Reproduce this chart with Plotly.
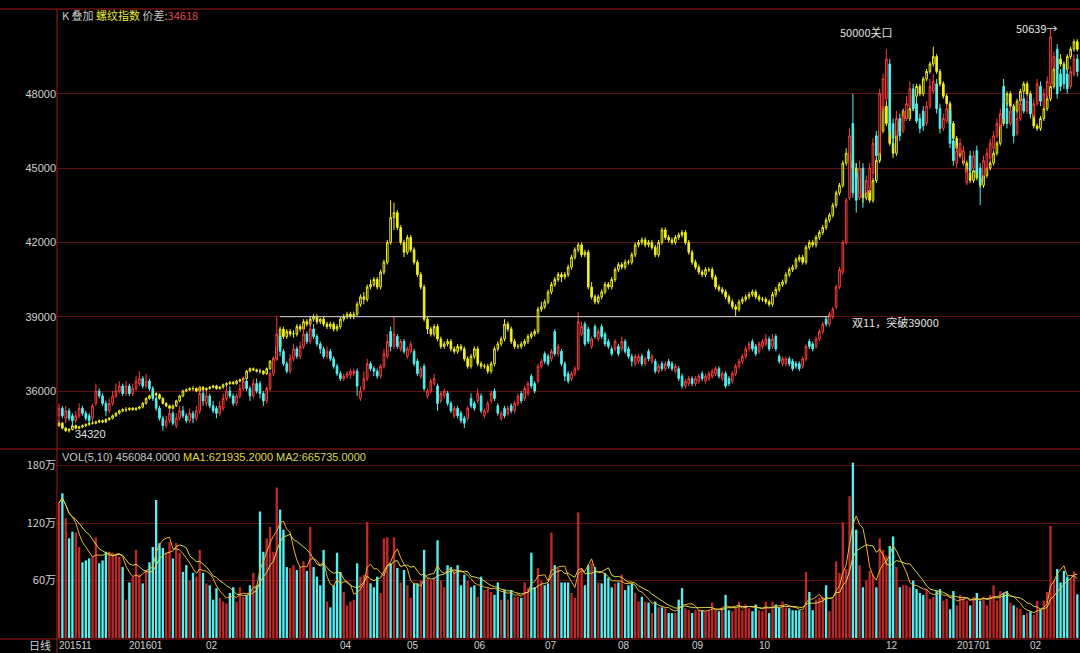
import plotly.graph_objects as go
import pandas as pd

W, H = 1080, 653

# ---------------- data ----------------
main_open = [
    35000, 35300, 34900, 35200, 35000, 34800, 35000, 35300, 35100, 35000,
    34900, 35500, 36000, 35800, 35500, 35200, 35500, 35800, 36000, 36200,
    35900, 36200, 35900, 36100, 36300, 36500, 36200, 36400, 36100, 35700,
    35300, 34900, 34600, 34800, 35100, 34600, 34900, 35200, 35000, 34800,
    35100, 34900, 35200, 35900, 35500, 35800, 35400, 35300, 35100, 35300,
    35700, 36000, 35800, 35500, 35800, 36100, 36400, 36100, 35800, 36300,
    36300, 35900, 35600, 36100, 36700, 37300, 38200, 37600, 37100, 36800,
    37300, 37700, 37400, 37800, 38300, 38000, 38500, 38200, 37900, 37700,
    37400, 37600, 37300, 37000, 36700, 36500, 36600, 36650, 36700, 36800,
    35700, 36100, 36500, 37100, 36900, 36800, 36600, 37000, 37400, 38400,
    37800, 38200, 37700, 38000, 37400, 37600, 37600, 37200, 36600, 37000,
    35800, 36000, 36300, 36200, 35600, 35800, 35900, 35500, 35000, 35300,
    35100, 34900, 34900, 35700, 35500, 35600, 35800, 35000, 35200, 35600,
    36000, 35400, 34900, 35300, 35100, 35400, 35200, 35500, 35900, 35700,
    35900, 36600, 36300, 36400, 37000, 37500, 37400, 37300, 38400, 37500,
    37600, 37100, 36700, 36500, 36700, 36900, 38300, 38700, 38500, 37800,
    38600, 38100, 38600, 38300, 38000, 37700, 37700, 37800, 37700, 38000,
    37700, 37400, 37100, 37200, 37400, 37100, 37600, 37200, 37200, 36800,
    37100, 36900, 37200, 37100, 36800, 36900, 36600, 36200, 36300, 36500,
    36300, 36400, 36700, 36400, 36500, 36600, 36700, 36900, 36500, 36700,
    36500, 36400, 36700, 37000, 37200, 37400, 37700, 38000, 37800, 37600,
    37800, 37900, 38100, 37800, 38200, 37400, 37100, 37100, 37300, 37200,
    37100, 37100, 37000, 37300, 38000, 37900, 37800, 38100, 38400, 38900,
    38700, 39000, 39400, 40200, 40800, 42000, 43800, 46800, 44800, 43800,
    45000, 44000, 44200, 44800, 46300, 45600, 47400, 47800, 49200, 46800,
    46300, 47000, 46500, 47000, 47500, 48200, 47600, 47000, 47300, 46800,
    47500, 48100, 48400, 47400, 46600, 46900, 47300, 46100, 45200, 45600,
    45300, 44400, 45500, 45000, 45700, 45000, 44700, 45000, 45400, 45800,
    46300, 46700, 48300, 47400, 46800, 47300, 46400, 47000, 47800, 47300,
    47800, 47100, 47600, 48300, 47500, 47900, 48400, 49100, 49800, 48800,
    49000, 48800, 48300, 48800, 49400,
]
main_high = [
    35500, 35400, 35400, 35300, 35100, 35200, 35500, 35400, 35200, 35100,
    35500, 36300, 36100, 35900, 35600, 35700, 36000, 36300, 36400, 36300,
    36400, 36300, 36300, 36600, 36800, 36600, 36700, 36500, 36200, 35800,
    35400, 35000, 35000, 35300, 35200, 35100, 35400, 35400, 35100, 35300,
    35200, 35400, 36200, 36000, 36000, 35900, 35600, 35400, 35600, 35900,
    36200, 36200, 35900, 35900, 36300, 36600, 36500, 36200, 36500, 36500,
    36400, 36000, 36200, 36800, 37400, 39000, 38400, 37700, 37200, 37500,
    37900, 37800, 38000, 38600, 38400, 38800, 38700, 38300, 38000, 37800,
    37800, 37700, 37400, 37100, 36800, 36700, 36800, 36900, 36900, 36900,
    36200, 36800, 37300, 37200, 37000, 36900, 37100, 37700, 38300, 38600,
    39000, 38300, 38100, 38100, 37800, 38000, 37700, 37300, 37000, 37100,
    36100, 36500, 36700, 36300, 36000, 36100, 36000, 35600, 35400, 35400,
    35200, 35000, 35400, 35900, 35600, 36100, 35900, 35300, 35600, 36000,
    36100, 35500, 35200, 35400, 35400, 35500, 35600, 35900, 36000, 36200,
    36400, 36700, 36400, 37100, 37300, 37600, 37500, 37700, 38500, 37900,
    37700, 37200, 36800, 36800, 37000, 39200, 38800, 38800, 38600, 38200,
    38700, 38500, 38700, 38400, 38100, 37800, 38100, 37900, 38200, 38100,
    37800, 37500, 37500, 37500, 37500, 37400, 37700, 37500, 37300, 37100,
    37200, 37200, 37300, 37200, 37100, 37000, 36700, 36500, 36600, 36600,
    36600, 36700, 36800, 36700, 36800, 36900, 37000, 37000, 36800, 36800,
    36600, 36800, 37100, 37300, 37500, 37800, 38000, 38100, 37900, 38000,
    38100, 38300, 38200, 38300, 38300, 37500, 37400, 37400, 37400, 37300,
    37200, 37200, 37400, 37900, 38100, 38000, 38200, 38500, 38800, 39000,
    39200, 39400, 40300, 41000, 42100, 43800, 46600, 48000, 45200, 45300,
    45200, 44700, 45200, 46200, 46500, 48200, 48800, 49800, 49400, 47000,
    47300, 47200, 47300, 47900, 48500, 48400, 47800, 47200, 47500, 47700,
    48600, 48800, 48600, 47600, 47200, 47600, 47400, 46300, 45900, 46200,
    45900, 45100, 45700, 45700, 45900, 45200, 45500, 45800, 46200, 46500,
    47000, 47400, 48600, 47600, 47500, 47500, 47200, 47800, 48000, 47900,
    48000, 47800, 48600, 48500, 48200, 48700, 50639, 49700, 50000, 49000,
    49200, 49000, 49100, 49600, 49600,
]
main_low = [
    34800, 34900, 34700, 34800, 34600, 34700, 34900, 35000, 34800, 34700,
    34800, 35400, 35700, 35400, 35000, 35100, 35400, 35700, 35900, 35800,
    35800, 35800, 35800, 36000, 36200, 36100, 36100, 36000, 35600, 35200,
    34800, 34400, 34500, 34700, 34600, 34500, 34800, 34900, 34700, 34700,
    34700, 34800, 35100, 35400, 35400, 35300, 35100, 34900, 35000, 35200,
    35600, 35700, 35400, 35400, 35700, 36000, 36000, 35600, 35700, 35900,
    35700, 35400, 35500, 36000, 36600, 37200, 37400, 37000, 36700, 36700,
    37200, 37300, 37300, 37700, 37900, 37900, 38100, 37800, 37500, 37300,
    37300, 37200, 36900, 36600, 36400, 36400, 36500, 36500, 36600, 35800,
    35600, 36000, 36400, 36800, 36600, 36500, 36500, 36900, 37300, 37600,
    37700, 37700, 37600, 37500, 37300, 37500, 37000, 36600, 36500, 36000,
    35700, 35900, 36200, 35200, 35500, 35700, 35400, 35100, 34900, 34900,
    34700, 34500, 34800, 35300, 35200, 35500, 35100, 34900, 35100, 35500,
    35600, 35000, 34800, 34900, 35000, 35100, 35100, 35400, 35500, 35600,
    35800, 36100, 35900, 36300, 36900, 37100, 37000, 37200, 37400, 37400,
    37000, 36400, 36300, 36400, 36600, 36800, 38200, 37800, 37900, 37700,
    38100, 38000, 38100, 37800, 37700, 37400, 37600, 37400, 37600, 37500,
    37300, 37000, 37000, 37100, 37000, 37000, 37200, 37100, 36700, 36700,
    36800, 36800, 36900, 36800, 36700, 36400, 36100, 36100, 36200, 36200,
    36200, 36300, 36400, 36300, 36400, 36500, 36600, 36500, 36400, 36100,
    36200, 36300, 36600, 36900, 37100, 37300, 37600, 37600, 37400, 37500,
    37700, 37800, 37600, 37700, 37600, 37100, 37000, 37000, 37000, 36800,
    36900, 36800, 36900, 37200, 37700, 37600, 37700, 38000, 38300, 38600,
    38600, 38900, 39300, 40100, 40700, 41900, 43700, 43800, 43200, 43700,
    43400, 43900, 44000, 44600, 45300, 45500, 47300, 47700, 46300, 45800,
    46100, 46100, 46400, 46900, 47400, 47300, 46800, 46400, 46500, 46700,
    47400, 48000, 47200, 46400, 46500, 46800, 45800, 45100, 45000, 45400,
    45100, 44300, 44700, 44900, 44600, 43500, 44500, 44900, 45300, 45700,
    46200, 46600, 46800, 46600, 46700, 46000, 46300, 46900, 47200, 47200,
    47000, 47000, 47500, 47500, 47400, 47800, 48300, 49000, 47800, 48100,
    48200, 48000, 48200, 48700, 48700,
]
main_close = [
    35300, 35000, 35200, 34900, 34800, 35000, 35300, 35100, 34900, 34800,
    35400, 36000, 35800, 35500, 35200, 35500, 35800, 36000, 36200, 35900,
    36200, 35900, 36100, 36400, 36500, 36200, 36400, 36100, 35700, 35300,
    34900, 34600, 34800, 35100, 34700, 34900, 35200, 35000, 34800, 35100,
    34900, 35200, 35900, 35600, 35800, 35400, 35200, 35100, 35400, 35700,
    36000, 35800, 35500, 35800, 36100, 36400, 36100, 35800, 36300, 36000,
    35900, 35600, 36100, 36700, 37300, 38300, 37600, 37100, 36800, 37300,
    37700, 37400, 37800, 38300, 38000, 38500, 38200, 37900, 37700, 37400,
    37600, 37300, 37000, 36700, 36500, 36600, 36700, 36800, 36800, 36200,
    36000, 36500, 37100, 36900, 36800, 36600, 37000, 37500, 38000, 37800,
    38300, 37800, 38000, 37600, 37700, 37900, 37100, 36700, 36900, 36100,
    36000, 36400, 36500, 35500, 35900, 36000, 35500, 35200, 35300, 35000,
    34800, 34700, 35300, 35400, 35300, 35900, 35200, 35200, 35500, 35900,
    35700, 35100, 35100, 35000, 35300, 35200, 35500, 35800, 35600, 36100,
    36300, 36200, 36000, 37000, 37200, 37200, 37100, 37600, 37500, 37800,
    37100, 36600, 36400, 36700, 36900, 38800, 38600, 37900, 38000, 38100,
    38200, 38400, 38200, 37900, 37800, 37500, 38000, 37500, 38000, 37600,
    37400, 37200, 37400, 37400, 37100, 37300, 37300, 37400, 36800, 37000,
    36900, 37100, 37000, 36900, 37000, 36500, 36200, 36400, 36500, 36300,
    36500, 36600, 36500, 36600, 36700, 36800, 36900, 36600, 36700, 36200,
    36300, 36700, 37000, 37200, 37400, 37700, 37900, 37700, 37500, 37900,
    38000, 38100, 37700, 38100, 37700, 37200, 37300, 37300, 37100, 36900,
    37000, 36900, 37300, 37800, 37800, 37700, 38100, 38400, 38700, 38700,
    39100, 39300, 40200, 40900, 42000, 43700, 46300, 44000, 43700, 45000,
    44000, 44500, 45000, 46000, 45500, 48000, 48600, 49400, 46500, 46200,
    47000, 46300, 47100, 47600, 48200, 47400, 46900, 46600, 46700, 47500,
    48300, 48500, 47400, 46600, 47000, 47400, 46000, 45300, 45700, 46000,
    45700, 44900, 44900, 45500, 44800, 44400, 45300, 45600, 46000, 46300,
    46800, 47200, 47000, 46800, 47300, 46300, 47000, 47600, 47300, 47700,
    47200, 47600, 48400, 47700, 48000, 48500, 50300, 49500, 48000, 48300,
    48400, 48200, 48900, 49400, 48900,
]

rebar_open = [
    34600, 34700, 34500, 34400, 34450, 34600, 34500, 34550, 34600, 34650,
    34700, 34700, 34750, 34800, 34750, 34850, 34900, 35000, 35100, 35200,
    35250, 35250, 35300, 35250, 35300, 35350, 35500, 35700, 35800, 35900,
    35850, 35700, 35500, 35400, 35300, 35400, 35600, 35800, 36000, 36050,
    36100, 36100, 36000, 36150, 36050, 36100, 36150, 36200, 36100, 36150,
    36250, 36300, 36350, 36300, 36400, 36450, 36500, 36800, 36900, 36850,
    36800, 36800, 36700, 36900, 37200, 37300, 37800, 38500, 38200, 38400,
    38300, 38300, 38600, 38500, 38800, 38700, 38900, 39000, 38800, 38900,
    38700, 38600, 38700, 38500, 38600, 38900, 39000, 39100, 39000, 39100,
    39500, 39800, 39700, 40200, 40300, 40500, 40200, 40800, 41200, 42000,
    43000, 43200, 42600, 42000, 41600, 42200, 41700, 41200, 40700, 40200,
    38900, 38500, 38300, 38600, 38100, 37800, 37900, 38000, 37700, 37600,
    37800, 37700, 37300, 37000, 37400, 37700, 37100, 37000, 37000, 36800,
    37100, 37700, 37900, 38100, 38700, 38500, 38000, 37800, 37800, 37900,
    38000, 38200, 38300, 38400, 39300, 39400, 39600, 40000, 40300, 40500,
    40700, 40600, 40700, 41000, 41400, 41700, 41900, 41500, 41600, 40200,
    39800, 39600, 39800, 40000, 40300, 40200, 40500, 40900, 41100, 41000,
    41200, 41200, 41500, 41900, 42000, 42100, 41900, 42000, 41800, 41500,
    42000, 42500, 42200, 42100, 42000, 42200, 42300, 42400, 42000, 41600,
    41200, 41000, 40800, 40700, 40900, 40900, 40600, 40200, 40100, 40000,
    39800, 39600, 39400, 39300, 39600, 39700, 39800, 39900, 40000, 39800,
    39700, 39700, 39600, 39500, 39900, 40100, 40300, 40400, 40700, 40900,
    41000, 41300, 41400, 41200, 41800, 42000, 41900, 42200, 42400, 42600,
    42900, 43100, 43500, 44000, 44300, 45200, 45600, 45300, 45000, 44600,
    44000, 43800, 44100, 43700, 44500, 45300, 46500, 47500, 46800, 46000,
    45600, 46500, 46900, 47300, 47000, 47400, 47900, 48300, 48000, 48600,
    48900, 49200, 49500, 48900, 48400, 47900, 47600, 46800, 46200, 45800,
    45500, 45200, 44800, 44500, 44900, 44600, 44300, 44700, 45000, 45200,
    45600, 46000, 46800, 47600, 48000, 47500, 47300, 47700, 48100, 48400,
    48000, 47200, 46700, 46600, 47000, 47400, 47800, 48300, 49000, 49400,
    49200, 49000, 49500, 49800, 50100,
]
rebar_high = [
    34800, 34750, 34550, 34500, 34650, 34650, 34600, 34650, 34700, 34750,
    34800, 34800, 34850, 34850, 34900, 34950, 35050, 35150, 35250, 35300,
    35350, 35350, 35350, 35350, 35400, 35550, 35750, 35850, 35950, 35950,
    35900, 35750, 35550, 35450, 35450, 35650, 35850, 36050, 36100, 36150,
    36200, 36150, 36200, 36200, 36150, 36200, 36250, 36250, 36200, 36300,
    36350, 36400, 36400, 36450, 36500, 36550, 36850, 36950, 36950, 36900,
    36900, 36850, 36950, 37250, 37350, 37850, 38600, 38600, 38500, 38500,
    38450, 38700, 38700, 38900, 38900, 39000, 39100, 39100, 38950, 39000,
    38800, 38800, 38800, 38700, 39000, 39100, 39200, 39200, 39200, 39600,
    39900, 40000, 40300, 40500, 40600, 40600, 40900, 41300, 42100, 43700,
    43600, 43300, 42700, 42100, 42300, 42300, 41800, 41300, 40800, 40300,
    39000, 38600, 38700, 38700, 38200, 38000, 38100, 38100, 37800, 37900,
    37900, 37800, 37400, 37500, 37800, 37800, 37200, 37100, 37100, 37200,
    37800, 38000, 38200, 38900, 38800, 38600, 38100, 37900, 38000, 38100,
    38300, 38400, 38500, 39400, 39600, 39700, 40100, 40400, 40600, 40800,
    40800, 40800, 41100, 41500, 41800, 42000, 42000, 41700, 41700, 40400,
    39900, 39900, 40100, 40400, 40400, 40600, 41000, 41200, 41200, 41300,
    41300, 41600, 42000, 42100, 42200, 42200, 42100, 42100, 41900, 42100,
    42600, 42600, 42300, 42200, 42300, 42400, 42500, 42500, 42100, 41700,
    41300, 41100, 40900, 41000, 41000, 41000, 40700, 40300, 40200, 40100,
    39900, 39700, 39500, 39700, 39800, 39900, 40000, 40100, 40100, 39900,
    39800, 39800, 39700, 40000, 40200, 40400, 40500, 40800, 41000, 41100,
    41400, 41500, 41500, 41900, 42100, 42100, 42300, 42500, 42700, 43000,
    43200, 43600, 44100, 44400, 45300, 45800, 45800, 45500, 45200, 44700,
    44200, 44200, 44200, 44600, 45400, 46600, 47600, 47700, 46900, 46200,
    46600, 47000, 47400, 47400, 47500, 48000, 48400, 48400, 48700, 49000,
    49300, 49900, 49600, 49000, 48500, 48000, 47700, 46900, 46300, 45900,
    45600, 45300, 44900, 45000, 45000, 44700, 44800, 45100, 45300, 45700,
    46100, 46900, 47700, 48100, 48100, 47600, 47800, 48200, 48500, 48500,
    48100, 47300, 46800, 47100, 47500, 47900, 48400, 49100, 49500, 49600,
    49300, 49600, 49900, 50200, 50200,
]
rebar_low = [
    34550, 34450, 34350, 34320, 34400, 34450, 34450, 34500, 34550, 34600,
    34650, 34650, 34700, 34700, 34700, 34800, 34850, 34950, 35050, 35150,
    35150, 35200, 35200, 35200, 35250, 35300, 35450, 35650, 35750, 35800,
    35650, 35450, 35350, 35250, 35250, 35350, 35550, 35750, 35950, 36000,
    36000, 35950, 35950, 36000, 36000, 36050, 36100, 36050, 36050, 36100,
    36200, 36250, 36250, 36250, 36350, 36400, 36450, 36750, 36800, 36750,
    36700, 36650, 36650, 36850, 37150, 37250, 37750, 38100, 38100, 38200,
    38150, 38200, 38400, 38400, 38600, 38600, 38800, 38700, 38700, 38600,
    38500, 38500, 38400, 38400, 38500, 38800, 38900, 38900, 38900, 39000,
    39400, 39500, 39600, 40100, 40200, 40100, 40100, 40700, 41100, 41900,
    42500, 42500, 41900, 41400, 41500, 41600, 41100, 40600, 40100, 38800,
    38300, 38200, 38200, 38000, 37700, 37700, 37800, 37600, 37500, 37500,
    37600, 37200, 36900, 36900, 37300, 37000, 36900, 36900, 36700, 36700,
    37000, 37600, 37800, 38000, 38400, 37900, 37700, 37700, 37700, 37800,
    37900, 38100, 38200, 38300, 39200, 39300, 39500, 39900, 40200, 40400,
    40400, 40500, 40600, 40900, 41300, 41600, 41400, 41400, 40100, 39700,
    39500, 39500, 39700, 39900, 40100, 40100, 40400, 40800, 40900, 40900,
    41100, 41100, 41400, 41800, 41900, 41800, 41800, 41700, 41400, 41400,
    41900, 42100, 42000, 41900, 41900, 42100, 42200, 41900, 41500, 41100,
    40900, 40700, 40600, 40600, 40800, 40500, 40100, 40000, 39900, 39700,
    39500, 39300, 39000, 39200, 39500, 39600, 39700, 39800, 39700, 39600,
    39600, 39500, 39400, 39400, 39800, 40000, 40200, 40300, 40600, 40800,
    40900, 41200, 41100, 41100, 41700, 41800, 41800, 42100, 42300, 42500,
    42800, 43000, 43400, 43900, 44200, 45100, 45100, 44800, 44500, 43900,
    43600, 43700, 43600, 43600, 44400, 45200, 46400, 46700, 45900, 45400,
    45500, 46400, 46800, 46900, 46900, 47300, 47800, 47900, 47900, 48500,
    48800, 49100, 48800, 48300, 47800, 47500, 46700, 46100, 45700, 45400,
    45100, 44700, 44400, 44400, 44500, 44200, 44200, 44600, 44900, 45100,
    45500, 45900, 46700, 47500, 47400, 47200, 47200, 47600, 48000, 47900,
    47100, 46600, 46500, 46500, 46900, 47300, 47700, 48200, 48900, 49100,
    48900, 48900, 49400, 49700, 49700,
]
rebar_close = [
    34700, 34500, 34400, 34450, 34600, 34500, 34550, 34600, 34650, 34700,
    34700, 34750, 34800, 34750, 34850, 34900, 35000, 35100, 35200, 35250,
    35250, 35300, 35250, 35300, 35350, 35500, 35700, 35800, 35900, 35850,
    35700, 35500, 35400, 35300, 35400, 35600, 35800, 36000, 36050, 36100,
    36100, 36000, 36150, 36050, 36100, 36150, 36200, 36100, 36150, 36250,
    36300, 36350, 36300, 36400, 36450, 36500, 36800, 36900, 36850, 36800,
    36800, 36700, 36900, 37200, 37300, 37800, 38500, 38200, 38400, 38300,
    38300, 38600, 38500, 38800, 38700, 38900, 39000, 38800, 38900, 38700,
    38600, 38700, 38500, 38600, 38900, 39000, 39100, 39000, 39100, 39500,
    39800, 39700, 40200, 40300, 40500, 40200, 40800, 41200, 42000, 43000,
    43200, 42600, 42000, 41600, 42200, 41700, 41200, 40700, 40200, 38900,
    38500, 38300, 38600, 38100, 37800, 37900, 38000, 37700, 37600, 37800,
    37700, 37300, 37000, 37400, 37700, 37100, 37000, 37000, 36800, 37100,
    37700, 37900, 38100, 38700, 38500, 38000, 37800, 37800, 37900, 38000,
    38200, 38300, 38400, 39300, 39400, 39600, 40000, 40300, 40500, 40700,
    40600, 40700, 41000, 41400, 41700, 41900, 41500, 41600, 40200, 39800,
    39600, 39800, 40000, 40300, 40200, 40500, 40900, 41100, 41000, 41200,
    41200, 41500, 41900, 42000, 42100, 41900, 42000, 41800, 41500, 42000,
    42500, 42200, 42100, 42000, 42200, 42300, 42400, 42000, 41600, 41200,
    41000, 40800, 40700, 40900, 40900, 40600, 40200, 40100, 40000, 39800,
    39600, 39400, 39300, 39600, 39700, 39800, 39900, 40000, 39800, 39700,
    39700, 39600, 39500, 39900, 40100, 40300, 40400, 40700, 40900, 41000,
    41300, 41400, 41200, 41800, 42000, 41900, 42200, 42400, 42600, 42900,
    43100, 43500, 44000, 44300, 45200, 45600, 45300, 45000, 44600, 44000,
    43800, 44100, 43700, 44500, 45300, 46500, 47500, 46800, 46000, 45600,
    46500, 46900, 47300, 47000, 47400, 47900, 48300, 48000, 48600, 48900,
    49200, 49500, 48900, 48400, 47900, 47600, 46800, 46200, 45800, 45500,
    45200, 44800, 44500, 44900, 44600, 44300, 44700, 45000, 45200, 45600,
    46000, 46800, 47600, 48000, 47500, 47300, 47700, 48100, 48400, 48000,
    47200, 46700, 46600, 47000, 47400, 47800, 48300, 49000, 49400, 49200,
    49000, 49500, 49800, 50100, 49800,
]

# volume in 万 (10k)
volume = [
    141, 151, 125, 104, 111, 110, 95, 79, 81, 83,
    85, 105, 78, 81, 90, 90, 89, 87, 85, 74,
    40, 58, 64, 92, 66, 57, 71, 79, 95, 144,
    99, 94, 89, 100, 83, 99, 89, 69, 76, 60,
    68, 64, 92, 68, 57, 55, 40, 52, 42, 38,
    36, 47, 53, 38, 53, 43, 45, 55, 68, 55,
    132, 90, 104, 116, 90, 157, 134, 113, 74, 73,
    76, 71, 74, 80, 70, 116, 74, 64, 55, 92,
    38, 32, 55, 89, 69, 48, 34, 38, 40, 78,
    64, 66, 121, 57, 53, 64, 47, 104, 105, 78,
    105, 73, 58, 71, 55, 42, 57, 57, 60, 92,
    63, 60, 63, 102, 60, 53, 76, 74, 71, 76,
    55, 66, 60, 53, 55, 43, 64, 50, 52, 48,
    45, 58, 40, 50, 40, 50, 43, 43, 42, 58,
    52, 89, 53, 73, 60, 55, 57, 110, 76, 73,
    58, 58, 58, 47, 42, 131, 73, 55, 76, 78,
    74, 58, 57, 68, 63, 53, 57, 58, 66, 50,
    55, 57, 47, 38, 43, 38, 37, 26, 38, 32,
    32, 31, 26, 26, 26, 40, 52, 31, 29, 26,
    29, 29, 29, 28, 29, 37, 29, 28, 32, 45,
    29, 28, 32, 38, 29, 35, 31, 28, 35, 29,
    28, 38, 26, 38, 35, 32, 38, 32, 31, 29,
    29, 29, 28, 69, 48, 29, 40, 42, 43, 55,
    28, 41, 80, 68, 121, 72, 148, 183, 113, 76,
    53, 60, 70, 66, 53, 104, 92, 86, 96, 106,
    74, 53, 55, 55, 53, 60, 51, 47, 45, 51,
    41, 43, 49, 51, 39, 41, 30, 49, 34, 45,
    43, 39, 34, 43, 47, 39, 43, 34, 45, 55,
    39, 49, 47, 49, 37, 34, 32, 30, 24, 26,
    28, 24, 39, 30, 39, 48, 117, 60, 72, 58,
    70, 64, 62, 69.4, 45.6,
]

# month labels: first bar of each labelled month
month_bar = [0, 21, 44, 84, 104, 124, 145, 167, 189, 209, 247, 268, 290]
month_text = ["201511", "201601", "02", "04", "05", "06", "07", "08", "09", "10",
              "12", "201701", "02"]

price_ticks = [36000, 39000, 42000, 45000, 48000]
vol_ticks = [60, 120, 180]
vol_tick_text = ["60万", "120万", "180万"]

break_level = 39000
break_from_bar, break_to_bar = 66, 230

# ---------------- styling ----------------
BG = "#000000"
RED = "#ff3c3c"
VOL_RED = "#c02828"
CYAN = "#54f0f0"
YELLOW = "#f0f020"
GRID = "#5e1212"
BORDER = "#a01c1c"
TXT = "#d0d0d0"
MA1_C = "#f0b030"
MA2_C = "#d8d850"
FONT = "Liberation Sans, Arial, Noto Sans CJK SC"
CJK = "Noto Sans CJK SC, Liberation Sans"


def px_x(x):
    return x / W


def px_y(y):
    return 1 - y / H


n = len(main_close)
idx = list(range(n))

vs = pd.Series(volume, dtype=float)
ma5 = vs.rolling(5, min_periods=1).mean()
ma10 = vs.rolling(10, min_periods=1).mean()
vol_colors = [VOL_RED if c >= o else CYAN for o, c in zip(main_open, main_close)]

fig = go.Figure()

fig.add_trace(go.Candlestick(
    x=idx, open=rebar_open, high=rebar_high, low=rebar_low, close=rebar_close,
    increasing=dict(line=dict(color=YELLOW, width=1), fillcolor=BG),
    decreasing=dict(line=dict(color=YELLOW, width=1), fillcolor=YELLOW),
    whiskerwidth=0, showlegend=False, hoverinfo="skip", xaxis="x", yaxis="y",
))
fig.add_trace(go.Candlestick(
    x=idx, open=main_open, high=main_high, low=main_low, close=main_close,
    increasing=dict(line=dict(color=RED, width=1), fillcolor=BG),
    decreasing=dict(line=dict(color=CYAN, width=1), fillcolor=CYAN),
    whiskerwidth=0, showlegend=False, hoverinfo="skip", xaxis="x", yaxis="y",
))
fig.add_trace(go.Bar(
    x=idx, y=volume, marker=dict(color=vol_colors, line=dict(width=0)),
    showlegend=False, hoverinfo="skip", xaxis="x2", yaxis="y2",
))
fig.add_trace(go.Scatter(
    x=idx, y=ma5, mode="lines", line=dict(color=MA1_C, width=1),
    showlegend=False, hoverinfo="skip", xaxis="x2", yaxis="y2",
))
fig.add_trace(go.Scatter(
    x=idx, y=ma10, mode="lines", line=dict(color=MA2_C, width=1),
    showlegend=False, hoverinfo="skip", xaxis="x2", yaxis="y2",
))

xr = [-0.6, n - 0.2]
xdom = [px_x(57), 1.0]

shapes = [
    dict(type="line", xref="x", yref="y", x0=break_from_bar, x1=break_to_bar,
         y0=break_level, y1=break_level, line=dict(color="#d8d8d8", width=1)),
    dict(type="line", xref="paper", yref="paper", x0=0, x1=1, y0=px_y(9), y1=px_y(9),
         line=dict(color=BORDER, width=1)),
    dict(type="line", xref="paper", yref="paper", x0=0, x1=1, y0=px_y(449), y1=px_y(449),
         line=dict(color=BORDER, width=1)),
    dict(type="line", xref="paper", yref="paper", x0=0, x1=1, y0=px_y(639), y1=px_y(639),
         line=dict(color=BORDER, width=1)),
    dict(type="line", xref="paper", yref="paper", x0=px_x(57), x1=px_x(57), y0=0, y1=px_y(9),
         line=dict(color=BORDER, width=1)),
]

annotations = []


def add_text(x, y, text, color=TXT, size=11, xanchor="left", family=CJK):
    annotations.append(dict(
        x=px_x(x), y=px_y(y), xref="paper", yref="paper", text=text, showarrow=False,
        xanchor=xanchor, yanchor="middle", font=dict(color=color, size=size, family=family),
    ))


add_text(60, 15, "<span style='color:#c8c8c8'>K 叠加 </span>"
                 "<span style='color:#e8e830'>螺纹指数</span>"
                 "<span style='color:#c8c8c8'> 价差:</span>"
                 "<span style='color:#e04848'>34618</span>")
add_text(60, 457, "<span style='color:#c8c8c8'>VOL(5,10) 456084.0000 </span>"
                  "<span style='color:#e8d830'>MA1:621935.2000 </span>"
                  "<span style='color:#d8d860'>MA2:665735.0000</span>", family=FONT)
add_text(838, 32, "50000关口", color="#e0e0e0")
add_text(1060, 28, "50639→", color="#e0e0e0", xanchor="right")
add_text(850, 322, "双11，突破39000", color="#e0e0e0")
add_text(73, 434, "34320", color="#e0e0e0", family=FONT)
add_text(53, 645, "日线", color=TXT, xanchor="right")

for b, t in zip(month_bar, month_text):
    annotations.append(dict(
        x=b - 0.6, y=px_y(645), xref="x", yref="paper", text=t, showarrow=False,
        xanchor="left", yanchor="middle", font=dict(color=TXT, size=10, family=FONT),
    ))

fig.update_layout(
    width=W, height=H, margin=dict(l=0, r=0, t=0, b=0),
    paper_bgcolor=BG, plot_bgcolor=BG, showlegend=False, bargap=0.3,
    xaxis=dict(domain=xdom, range=xr, anchor="y", showgrid=False, zeroline=False,
               showticklabels=False, showline=False, ticks="",
               rangeslider=dict(visible=False), automargin=False),
    yaxis=dict(domain=[px_y(448), px_y(10)], range=[33699, 51381], anchor="x",
               tickvals=price_ticks, ticktext=[str(v) for v in price_ticks],
               tickfont=dict(color=TXT, size=11, family=FONT), gridcolor=GRID,
               gridwidth=1, zeroline=False, showline=False, ticks="", automargin=False),
    xaxis2=dict(domain=xdom, range=xr, anchor="y2", matches="x", showgrid=False,
                zeroline=False, showticklabels=False, showline=False, ticks="",
                automargin=False),
    yaxis2=dict(domain=[px_y(638), px_y(450)], range=[0, 196.2], anchor="x2",
                tickvals=vol_ticks, ticktext=vol_tick_text,
                tickfont=dict(color=TXT, size=11, family=CJK), gridcolor=GRID,
                gridwidth=1, zeroline=False, showline=False, ticks="", automargin=False),
    shapes=shapes, annotations=annotations,
)

fig.write_html(
    "out.html",
    config={"displayModeBar": False},
    post_script="document.body.style.margin='0';document.body.style.background='#000';",
)
